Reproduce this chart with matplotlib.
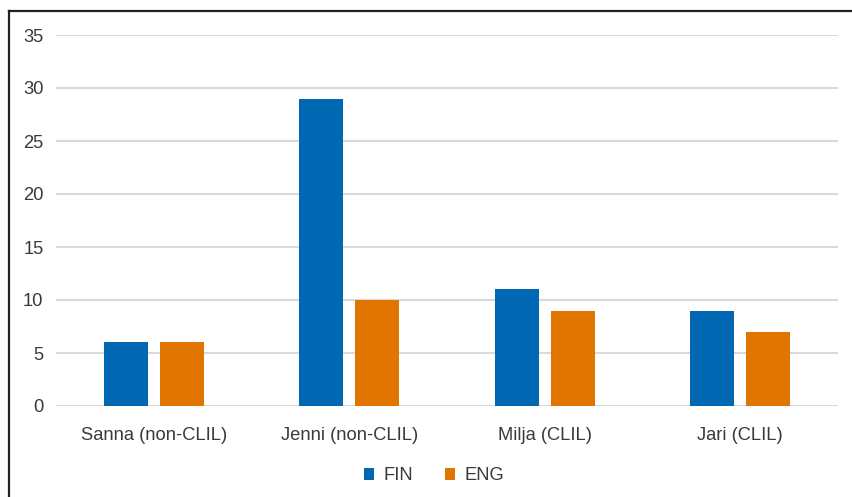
import matplotlib
matplotlib.use("Agg")
import matplotlib.pyplot as plt
from matplotlib.lines import Line2D
import numpy as np

categories = ["Sanna (non-CLIL)", "Jenni (non-CLIL)", "Milja (CLIL)", "Jari (CLIL)"]
fin_values = [6, 29, 11, 9]
eng_values = [6, 10, 9, 7]
series_names = ["FIN", "ENG"]
y_ticks = [0, 5, 10, 15, 20, 25, 30, 35]

plt.rcParams["font.family"] = ["Liberation Sans", "DejaVu Sans"]
text_color = "#3a3a3a"
blue = "#0067B2"
orange = "#E07500"

W, H = 853, 497
fig = plt.figure(figsize=(W / 100, H / 100), dpi=100)
ax = fig.add_axes([56 / W, 1 - 406 / H, (838 - 56) / W, (406 - 35) / H])

x = np.arange(len(categories))
bw = 0.225
off = 0.143
ax.bar(x - off, fin_values, bw, color=blue, label=series_names[0], zorder=3)
ax.bar(x + off, eng_values, bw, color=orange, label=series_names[1], zorder=3)

ax.set_xlim(-0.5, len(categories) - 0.5)
ax.set_ylim(0, 35)
ax.set_yticks(y_ticks)
ax.set_xticks(x)
ax.set_xticklabels(categories)
ax.yaxis.grid(True, color="#d9d9d9", linewidth=1.5, zorder=0)
ax.set_axisbelow(True)
for s in ax.spines.values():
    s.set_visible(False)
ax.tick_params(axis="both", length=0, labelsize=13.2, colors=text_color)
ax.tick_params(axis="y", pad=9)
ax.tick_params(axis="x", pad=15)

leg = fig.legend(loc="center", bbox_to_anchor=(434 / W, 1 - 476 / H), ncol=2,
                 frameon=False, fontsize=13.2, handlelength=0.55, handleheight=0.55,
                 handletextpad=0.55, columnspacing=1.7)
for t in leg.get_texts():
    t.set_color(text_color)

# outer frame (left and top edges)
fig.add_artist(Line2D([8.5 / W, 8.5 / W], [0, 1 - 11 / H], transform=fig.transFigure,
                      color="#222222", linewidth=1.6))
fig.add_artist(Line2D([8.5 / W, 1], [1 - 11 / H, 1 - 11 / H], transform=fig.transFigure,
                      color="#222222", linewidth=1.6))

fig.savefig("out.png", dpi=100)
